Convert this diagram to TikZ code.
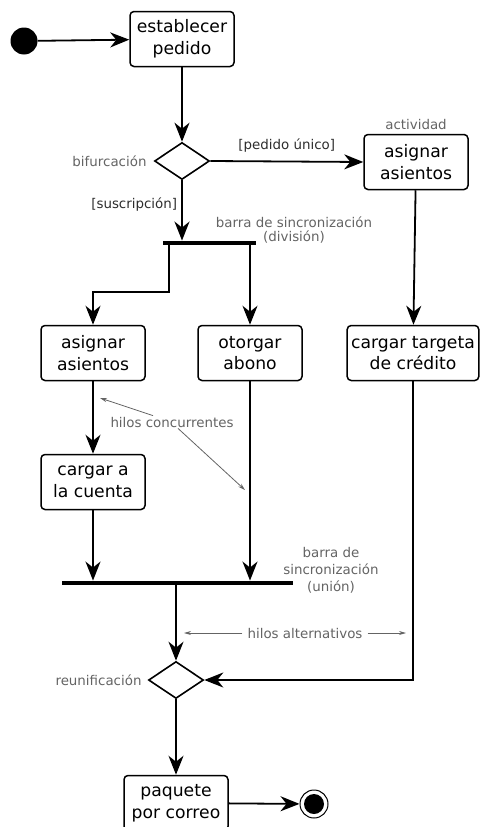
\documentclass[tikz,border=0pt]{standalone}
\usepackage{fontspec}
\setmainfont{DejaVu Sans}
\usetikzlibrary{positioning, arrows.meta, shapes.geometric}
\definecolor{notegray}{RGB}{100,100,100}
\definecolor{guardgray}{RGB}{45,45,45}

\tikzset{
    actbox/.style={draw, line width=1.5pt, rounded corners=4pt, minimum width=104pt,
        minimum height=55pt, inner sep=4pt, align=center, font=\fontsize{17.2}{21.5}\selectfont},
    decision/.style={draw, line width=1.6pt, diamond, minimum width=55pt, minimum height=37pt, inner sep=0pt},
    syncbar/.style={fill=black, minimum height=4.5pt, inner sep=0pt},
    flow/.style={line width=1.8pt, -{Stealth[length=19pt, width=15pt, inset=6pt]}},
    noteline/.style={draw=notegray, line width=0.8pt, -{Stealth[length=7pt, width=4pt]}},
    note/.style={text=notegray, font=\fontsize{13.4}{13.5}\selectfont, inner sep=1pt},
    guard/.style={text=guardgray, font=\fontsize{13.4}{13.5}\selectfont, inner sep=1pt},
}

\begin{document}
\begin{tikzpicture}[x=1pt, y=-1pt]
    \useasboundingbox (0,0) rectangle (480,827);

    % start and first activity
    \node[circle, fill=black, minimum size=27pt, inner sep=0pt] (start) at (24,41) {};
    \node[actbox] (order) at (182,39) {establecer\\pedido};
    \node[decision] (split) at (182,161) {};
    \node[note, left=6pt of split] (splitlbl) {bifurcación};

    % single order branch
    \node[actbox] (seatsA) at (416,162) {asignar\\asientos};
    \node[note, above=3pt of seatsA] (actlbl) {actividad};
    \node[actbox] (card) at (413,353) {cargar targeta\\de crédito};

    % subscription branch
    \node[syncbar, minimum width=93pt] (fork) at (209.5,243) {};
    \node[note, align=center] (forklbl) at (294,230) {barra de sincronización\\(división)};
    \node[actbox] (seatsB) at (93,353) {asignar\\asientos};
    \node[actbox] (grant) at (250,353) {otorgar\\abono};
    \node[actbox] (charge) at (93,482) {cargar a\\la cuenta};
    \node[note] (threads) at (172,422) {hilos concurrentes};
    \node[syncbar, minimum width=231pt] (joinbar) at (177.5,583) {};
    \node[note, align=center, font=\fontsize{13.4}{17}\selectfont] (joinlbl) at (331,570) {barra de\\sincronización\\(unión)};

    % merge and end
    \node[decision] (merge) at (176,680) {};
    \node[note, left=5pt of merge] (mergelbl) {reunificación};
    \node[note, inner xsep=5pt] (alts) at (305,633) {hilos alternativos};
    \node[actbox] (ship) at (176,803) {paquete\\por correo};
    \node[circle, draw=black, line width=1pt, minimum size=28pt, inner sep=0pt] (stop) at (314,804) {};
    \node[circle, fill=black, minimum size=20pt, inner sep=0pt] (stopdot) at (stop) {};

    \coordinate (altsL) at (184,633);
    \coordinate (altsR) at (406,633);
    \coordinate (threadsA) at (100,398);
    \coordinate (threadsB) at (245,490);

    % flows
    \draw[flow] (start) -- (order);
    \draw[flow] (order) -- (split);
    \draw[flow] (split.east) -- (seatsA.west) node[guard, midway, above=7pt] {[pedido único]};
    \draw[flow] (split.south) -- (split.south |- fork.north) node[guard, pos=0.4, left=3pt] {[suscripción]};
    \draw[flow] ([xshift=-40.5pt]fork.center) -- ++(0,49) -| (seatsB.north);
    \draw[flow] (fork.center -| grant.north) -- (grant.north);
    \draw[flow] (seatsA) -- (card);
    \draw[flow] (seatsB) -- (charge);
    \draw[flow] (charge) -- (charge.south |- joinbar.north);
    \draw[flow] (grant) -- (grant.south |- joinbar.north);
    \draw[flow] (joinbar.center -| merge.north) -- (merge.north);
    \draw[flow] (card.south) |- (merge.east);
    \draw[flow] (merge) -- (ship);
    \draw[flow] (ship) -- (stop);

    % annotations
    \draw[noteline] ([xshift=-19pt]threads.north) -- (threadsA);
    \draw[noteline] ([xshift=6pt]threads.south) -- (threadsB);
    \draw[noteline] (alts.west) -- (altsL);
    \draw[noteline] (alts.east) -- (altsR);
\end{tikzpicture}
\end{document}
